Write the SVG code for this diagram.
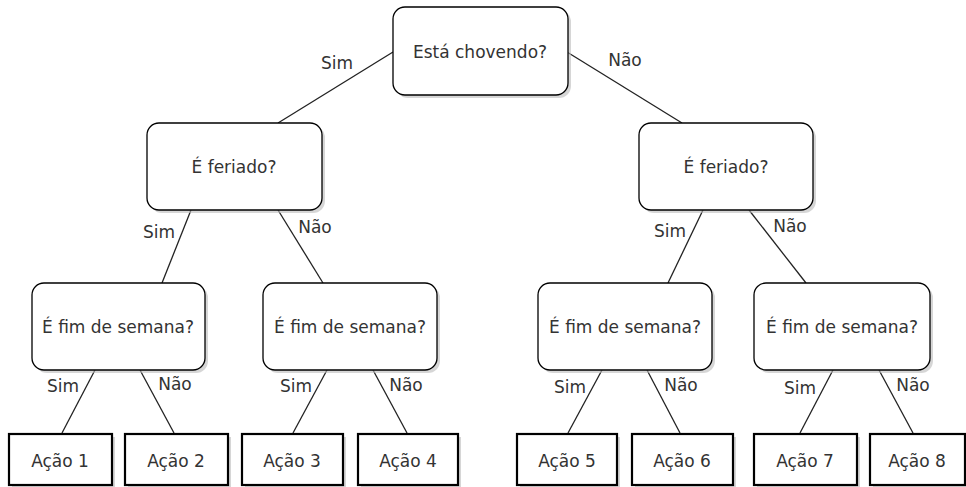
<svg xmlns="http://www.w3.org/2000/svg" width="966" height="487" viewBox="0 0 966 487">
<defs>
<style>
.n rect.b{fill:#fff;stroke:#000;stroke-width:1.3}
.n rect.s{fill:#bbb;opacity:0.6}
.a rect.b{fill:#fff;stroke:#000;stroke-width:2.2}
.a rect.s{fill:#bbb;opacity:0.6}
text{font-family:"DejaVu Sans","Liberation Sans",sans-serif;font-size:17px;fill:#333;text-anchor:middle}
.c line{stroke:#222;stroke-width:1.3}
</style>
</defs>
<rect width="966" height="487" fill="#fff"/>
<g class="c" id="connectors">
<line x1="393" y1="52" x2="278" y2="123"/>
<line x1="567" y1="52" x2="682" y2="123"/>
<line x1="191" y1="210" x2="162" y2="283"/>
<line x1="278" y1="210" x2="323" y2="283"/>
<line x1="703" y1="210" x2="668" y2="283"/>
<line x1="749" y1="210" x2="806" y2="283"/>
<line x1="95" y1="370" x2="62" y2="433"/>
<line x1="140" y1="370" x2="174" y2="433"/>
<line x1="327" y1="370" x2="293" y2="433"/>
<line x1="373" y1="370" x2="407" y2="433"/>
<line x1="602" y1="370" x2="568" y2="433"/>
<line x1="647" y1="370" x2="680" y2="433"/>
<line x1="833" y1="370" x2="800" y2="433"/>
<line x1="879" y1="370" x2="913" y2="433"/>
<text x="337" y="69">Sim</text>
<text x="625" y="66">Não</text>
<text x="159" y="238">Sim</text>
<text x="315" y="233">Não</text>
<text x="670" y="237">Sim</text>
<text x="790" y="232">Não</text>
<text x="63" y="392">Sim</text>
<text x="175" y="390">Não</text>
<text x="296" y="392">Sim</text>
<text x="406" y="391">Não</text>
<text x="570" y="393">Sim</text>
<text x="681" y="391">Não</text>
<text x="800" y="394">Sim</text>
<text x="913" y="391">Não</text>
</g>
<g class="n" id="chovendo">
<rect class="s" x="396" y="10" width="175" height="88" rx="12"/>
<rect class="b" x="393" y="7" width="175" height="88" rx="12"/>
<text x="480" y="58">Está chovendo?</text>
</g>
<g class="n" id="feriado1">
<rect class="s" x="150" y="126" width="175" height="87" rx="12"/>
<rect class="b" x="147" y="123" width="175" height="87" rx="12"/>
<text x="234" y="173">É feriado?</text>
</g>
<g class="n" id="feriado2">
<rect class="s" x="642" y="126" width="174" height="87" rx="12"/>
<rect class="b" x="639" y="123" width="174" height="87" rx="12"/>
<text x="726" y="173">É feriado?</text>
</g>
<g class="n" id="fim1">
<rect class="s" x="35" y="286" width="173" height="87" rx="12"/>
<rect class="b" x="32" y="283" width="173" height="87" rx="12"/>
<text x="118" y="333">É fim de semana?</text>
</g>
<g class="n" id="fim2">
<rect class="s" x="266" y="286" width="174" height="87" rx="12"/>
<rect class="b" x="263" y="283" width="174" height="87" rx="12"/>
<text x="350" y="333">É fim de semana?</text>
</g>
<g class="n" id="fim3">
<rect class="s" x="541" y="286" width="174" height="87" rx="12"/>
<rect class="b" x="538" y="283" width="174" height="87" rx="12"/>
<text x="625" y="333">É fim de semana?</text>
</g>
<g class="n" id="fim4">
<rect class="s" x="757" y="286" width="176" height="87" rx="12"/>
<rect class="b" x="754" y="283" width="176" height="87" rx="12"/>
<text x="842" y="333">É fim de semana?</text>
</g>
<g class="a" id="acao1">
<rect class="s" x="12" y="437" width="103" height="51"/>
<rect class="b" x="9" y="434" width="103" height="51"/>
<text x="60" y="467">Ação 1</text>
</g>
<g class="a" id="acao2">
<rect class="s" x="128" y="437" width="103" height="51"/>
<rect class="b" x="125" y="434" width="103" height="51"/>
<text x="176" y="467">Ação 2</text>
</g>
<g class="a" id="acao3">
<rect class="s" x="245" y="437" width="101" height="51"/>
<rect class="b" x="242" y="434" width="101" height="51"/>
<text x="292" y="467">Ação 3</text>
</g>
<g class="a" id="acao4">
<rect class="s" x="361" y="437" width="100" height="51"/>
<rect class="b" x="358" y="434" width="100" height="51"/>
<text x="408" y="467">Ação 4</text>
</g>
<g class="a" id="acao5">
<rect class="s" x="520" y="437" width="100" height="51"/>
<rect class="b" x="517" y="434" width="100" height="51"/>
<text x="567" y="467">Ação 5</text>
</g>
<g class="a" id="acao6">
<rect class="s" x="635" y="437" width="101" height="51"/>
<rect class="b" x="632" y="434" width="101" height="51"/>
<text x="682" y="467">Ação 6</text>
</g>
<g class="a" id="acao7">
<rect class="s" x="757" y="437" width="103" height="51"/>
<rect class="b" x="754" y="434" width="103" height="51"/>
<text x="805" y="467">Ação 7</text>
</g>
<g class="a" id="acao8">
<rect class="s" x="873" y="437" width="96" height="51"/>
<rect class="b" x="870" y="434" width="95" height="51"/>
<text x="917" y="467">Ação 8</text>
</g>
</svg>
